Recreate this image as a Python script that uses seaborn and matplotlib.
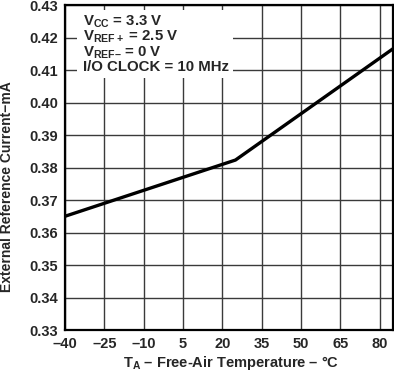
import seaborn as sns
import matplotlib.pyplot as plt
from matplotlib.patches import Rectangle

# data
temperature = [-40, 25, 85]
ref_current = [0.365, 0.3823, 0.4165]
x_ticks = [-40, -25, -10, 5, 20, 35, 50, 65, 80]
y_ticks = [0.33, 0.34, 0.35, 0.36, 0.37, 0.38, 0.39, 0.40, 0.41, 0.42, 0.43]
conditions = [r"V$_{\mathrm{CC}}$ = 3.3 V",
              r"V$_{\mathrm{REF+}}$ = 2.5 V",
              r"V$_{\mathrm{REF–}}$ = 0 V",
              "I/O CLOCK = 10 MHz"]

sns.set_style("white")
plt.rcParams['font.family'] = ['Liberation Sans', 'DejaVu Sans']
plt.rcParams['font.weight'] = 'bold'
plt.rcParams['mathtext.fontset'] = 'custom'
plt.rcParams['mathtext.rm'] = 'Liberation Sans:bold'
plt.rcParams['mathtext.it'] = 'Liberation Sans:bold'
plt.rcParams['mathtext.bf'] = 'Liberation Sans:bold'

fig = plt.figure(figsize=(3.94, 3.74), dpi=100)
ax = fig.add_axes([0.165, 0.1176, 0.832, 0.869])

sns.lineplot(x=temperature, y=ref_current, ax=ax, color="black", linewidth=2.4, zorder=5)

ax.set_xlim(-40, 85)
ax.set_ylim(0.33, 0.43)
ax.set_xticks(x_ticks)
ax.set_yticks(y_ticks)
ax.set_xticklabels(["–" + str(-t) if t < 0 else str(t) for t in x_ticks])
ax.set_yticklabels([f"{v:.2f}" for v in y_ticks])
ax.tick_params(length=0, labelsize=10.5, pad=5)
for lab in ax.get_xticklabels() + ax.get_yticklabels():
    lab.set_fontweight('bold')

ax.grid(True, color="#3a3a3a", linewidth=1.0)
ax.set_axisbelow(True)
for s in ax.spines.values():
    s.set_color("black")
    s.set_linewidth(1.6)

# white box behind the conditions text
ax.add_patch(Rectangle((0.037, 0.775), 0.476, 0.21, transform=ax.transAxes,
                       facecolor="white", edgecolor="none", zorder=2))
baselines = [0.938, 0.892, 0.84, 0.797]
for txt, yb in zip(conditions, baselines):
    ax.text(0.055, yb, txt, transform=ax.transAxes, fontsize=10.8, fontweight='bold',
            va='baseline', ha='left', zorder=3)

ax.set_xlabel(r"T$_{\mathrm{A}}$ – Free-Air Temperature – °C", fontsize=10.5, fontweight='bold')
ax.set_ylabel("External Reference Current−mA", fontsize=10, fontweight='bold')
ax.xaxis.set_label_coords(0.507, -0.075)
ax.yaxis.set_label_coords(-0.155, 0.44)

plt.savefig("out.png", dpi=100)
